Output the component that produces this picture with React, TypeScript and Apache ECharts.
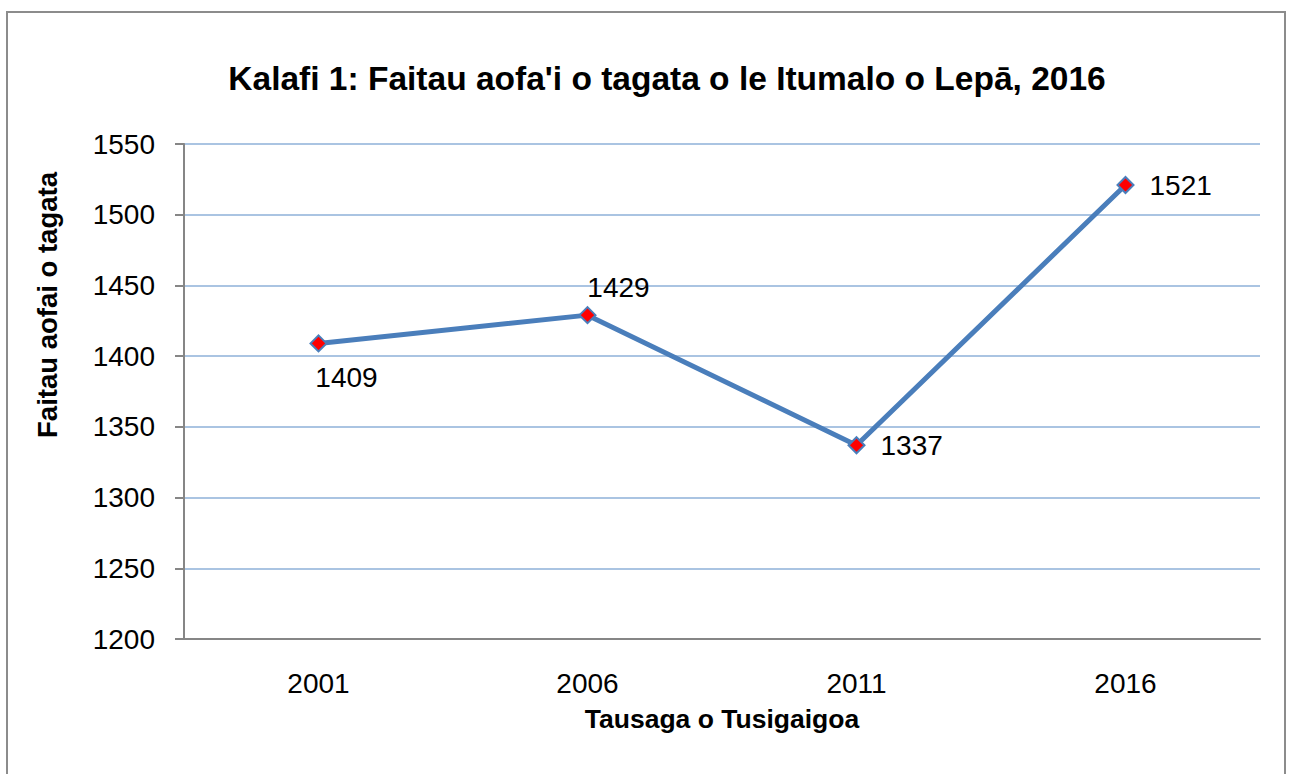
import React, { useEffect, useRef } from "react";
import * as echarts from "echarts";

const titleText = "Kalafi 1: Faitau aofa'i o tagata o le Itumalo o Lepā, 2016";
const categories = ["2001", "2006", "2011", "2016"];
const values = [1409, 1429, 1337, 1521];
const yName = "Faitau aofai o tagata";
const xName = "Tausaga o Tusigaigoa";

const FONT = "'Liberation Sans', Arial, sans-serif";

export default function App() {
  const ref = useRef<HTMLDivElement>(null);
  useEffect(() => {
    if (!ref.current) return;
    const chart = echarts.init(ref.current, null, { renderer: "svg" });
    const labelCfg = [
      { position: "bottom", offset: [28, 6] },
      { position: "top", offset: [31, 0] },
      { position: "right", offset: [10, 0] },
      { position: "right", offset: [10, 0] },
    ];
    chart.setOption({
      animation: false,
      backgroundColor: "#ffffff",
      title: {
        text: titleText,
        left: 662,
        textAlign: "center",
        top: 56,
        textStyle: { fontFamily: FONT, fontSize: 33.5, fontWeight: "bold", color: "#000" },
      },
      graphic: [
        {
          type: "rect",
          shape: { x: 7, y: 12, width: 1278, height: 780 },
          style: { fill: "none", stroke: "#8c8c8c", lineWidth: 2 },
          silent: true,
        },
        {
          type: "text",
          x: 47,
          y: 305,
          rotation: Math.PI / 2,
          style: {
            text: yName,
            fontFamily: FONT,
            fontSize: 27.5,
            fontWeight: "bold",
            fill: "#000",
            align: "center",
            verticalAlign: "middle",
          },
          silent: true,
        },
      ],
      grid: { left: 184, top: 144, right: 30, bottom: 135 },
      xAxis: {
        type: "category",
        data: categories,
        boundaryGap: true,
        name: xName,
        nameLocation: "middle",
        nameGap: 66,
        nameTextStyle: { fontFamily: FONT, fontSize: 26.5, fontWeight: "bold", color: "#000" },
        axisLine: { show: true, lineStyle: { color: "#868686", width: 2 } },
        axisTick: { show: false },
        axisLabel: { fontFamily: FONT, fontSize: 28, color: "#000", margin: 30 },
        splitLine: { show: false },
      },
      yAxis: {
        type: "value",
        min: 1200,
        max: 1550,
        interval: 50,
        axisLine: { show: true, lineStyle: { color: "#868686", width: 2 } },
        axisTick: { show: true, length: 9, lineStyle: { color: "#868686", width: 2 } },
        axisLabel: {
          fontFamily: FONT,
          fontSize: 28,
          color: "#000",
          margin: 29,
          formatter: (v: number) => String(v),
        },
        splitLine: { show: true, lineStyle: { color: "#8eb0d9", width: 1.5 } },
      },
      series: [
        {
          type: "line",
          data: values.map((v, i) => ({
            value: v,
            label: {
              show: true,
              position: labelCfg[i].position,
              offset: labelCfg[i].offset,
              fontFamily: FONT,
              fontSize: 28,
              color: "#000",
            },
          })),
          lineStyle: { color: "#4a7ebb", width: 5 },
          symbol: "diamond",
          symbolSize: 16,
          itemStyle: { color: "#ff0000", borderColor: "#4a7ebb", borderWidth: 2 },
        },
      ],
    });
    return () => chart.dispose();
  }, []);
  return (
    <div
      ref={ref}
      style={{ position: "absolute", left: 0, top: 0, width: 1290, height: 774 }}
    />
  );
}
